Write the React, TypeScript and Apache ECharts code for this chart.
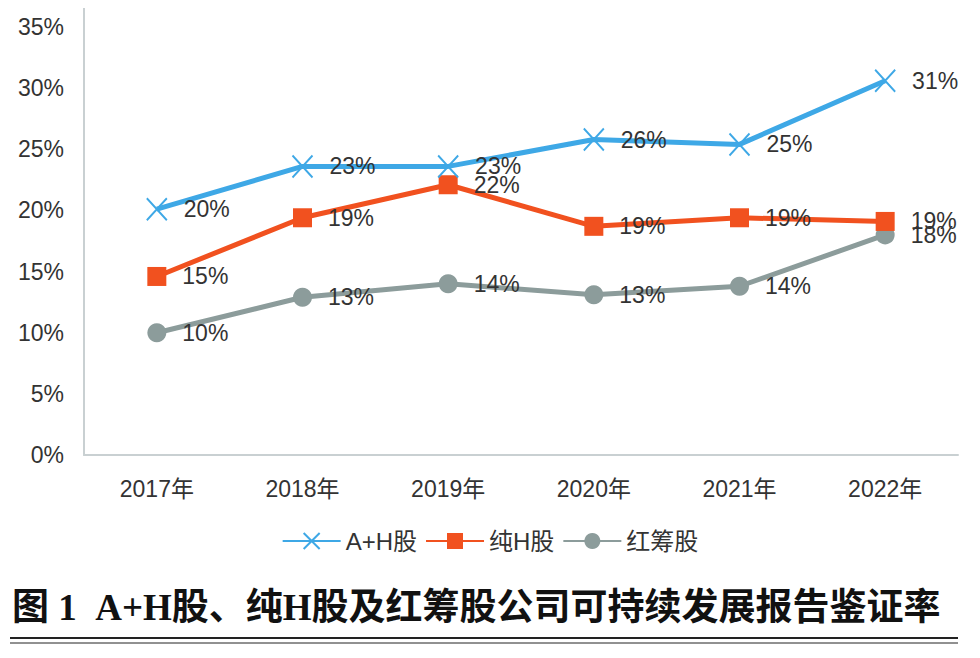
import React, { useEffect, useRef } from "react";
import * as echarts from "echarts";

const years = ["2017年", "2018年", "2019年", "2020年", "2021年", "2022年"];
const ahValues = [20.1, 23.6, 23.6, 25.8, 25.4, 30.6];
const ahLabels = ["20%", "23%", "23%", "26%", "25%", "31%"];
const pureHValues = [14.6, 19.4, 22.1, 18.7, 19.4, 19.1];
const pureHLabels = ["15%", "19%", "22%", "19%", "19%", "19%"];
const redChipValues = [10.0, 12.9, 14.0, 13.1, 13.8, 18.0];
const redChipLabels = ["10%", "13%", "14%", "13%", "14%", "18%"];
const seriesNames = ["A+H股", "纯H股", "红筹股"];
const yTicks = [0, 5, 10, 15, 20, 25, 30, 35];
const titleText = "图 1  A+H股、纯H股及红筹股公司可持续发展报告鉴证率";

const FONT = "'Liberation Sans', Arial, 'Noto Sans CJK SC', sans-serif";
const BLUE = "#3ea8e6";
const ORANGE = "#f1511f";
const GREY = "#8c9c9b";
const TEXT = "#333333";

const crossPath = "path://M0,0 L20,22 M20,0 L0,22";

export default function App() {
  const ref = useRef<HTMLDivElement>(null);
  useEffect(() => {
    if (!ref.current) return;
    const chart = echarts.init(ref.current, null, { renderer: "svg" });
    const labelStyle = (labels: string[]) => ({
      show: true,
      position: "right" as const,
      distance: 16,
      fontSize: 23,
      color: TEXT,
      fontFamily: FONT,
      formatter: (p: any) => labels[p.dataIndex],
    });
    chart.setOption({
      animation: false,
      backgroundColor: "#ffffff",
      grid: { left: 84, right: 22, top: 27, bottom: 203, containLabel: false },
      legend: {
        bottom: 100,
        left: "center",
        itemWidth: 58,
        itemHeight: 20,
        itemGap: 8,
        textStyle: { fontSize: 24, color: TEXT, fontFamily: FONT },
        data: seriesNames,
      },
      xAxis: {
        type: "category",
        data: years,
        boundaryGap: true,
        axisLine: { lineStyle: { color: "#c9d0d2", width: 2 } },
        axisTick: { show: false },
        axisLabel: { fontSize: 23, color: TEXT, fontFamily: FONT, margin: 22 },
      },
      yAxis: {
        type: "value",
        min: yTicks[0],
        max: yTicks[yTicks.length - 1],
        interval: 5,
        splitLine: { show: false },
        axisLine: { show: true, lineStyle: { color: "#c9d0d2", width: 2 } },
        axisTick: { show: false },
        axisLabel: {
          fontSize: 23,
          color: TEXT,
          fontFamily: FONT,
          margin: 20,
          formatter: "{value}%",
        },
      },
      series: [
        {
          name: seriesNames[0],
          type: "line",
          data: ahValues,
          symbol: crossPath,
          symbolSize: [20, 22],
          lineStyle: { color: BLUE, width: 5 },
          itemStyle: { color: "rgba(0,0,0,0)", borderColor: BLUE, borderWidth: 2 },
          label: labelStyle(ahLabels),
          z: 3,
        },
        {
          name: seriesNames[1],
          type: "line",
          data: pureHValues,
          symbol: "rect",
          symbolSize: 19,
          lineStyle: { color: ORANGE, width: 5 },
          itemStyle: { color: ORANGE },
          label: labelStyle(pureHLabels),
          z: 2,
        },
        {
          name: seriesNames[2],
          type: "line",
          data: redChipValues,
          symbol: "circle",
          symbolSize: 19,
          lineStyle: { color: GREY, width: 5 },
          itemStyle: { color: GREY },
          label: labelStyle(redChipLabels),
          z: 1,
        },
      ],
      graphic: [
        {
          type: "line",
          shape: { x1: 84, y1: 8, x2: 84, y2: 28 },
          style: { stroke: "#c9d0d2", lineWidth: 2 },
        },
        {
          type: "text",
          left: 12,
          top: 589,
          style: {
            text: titleText,
            fontSize: 37,
            fontWeight: "bold",
            fill: "#111111",
            letterSpacing: 1.6,
            fontFamily: "'Liberation Serif', 'Noto Sans CJK SC', serif",
          },
        },
        {
          type: "line",
          shape: { x1: 10, y1: 638, x2: 958, y2: 638 },
          style: { stroke: "#222", lineWidth: 2 },
        },
        {
          type: "line",
          shape: { x1: 10, y1: 643, x2: 958, y2: 643 },
          style: { stroke: "#222", lineWidth: 1 },
        },
      ],
    });
    return () => chart.dispose();
  }, []);
  return <div ref={ref} style={{ width: 980, height: 658, margin: -8 }} />;
}
